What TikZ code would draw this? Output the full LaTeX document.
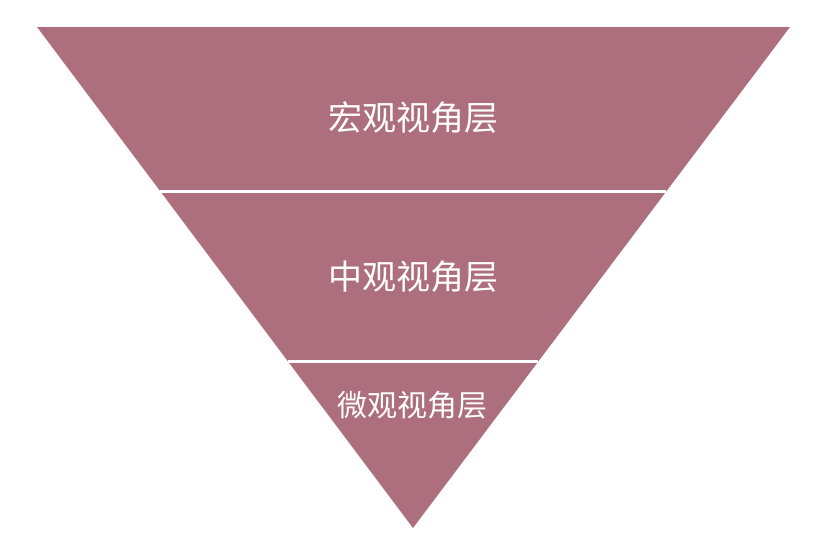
\documentclass[tikz,border=0pt]{standalone}
\usepackage{fontspec}
\newfontfamily\cjk{Noto Sans CJK SC}
\usetikzlibrary{calc}
\definecolor{layerrose}{HTML}{AD6E7D}

\begin{document}
\begin{tikzpicture}[x=1pt,y=-1pt]
\tikzset{layer/.style={fill=layerrose,draw=none},
  gapline/.style={draw=white,line width=3.5pt},
  layertext/.style={text=white,font=\cjk\fontsize{34}{34}\selectfont}}
\useasboundingbox (0,0) rectangle (823,549);

\coordinate (L) at (37,27);
\coordinate (R) at (790,27);
\coordinate (V) at (413,528);

\fill[layer] (L) -- (R) -- (V) -- cycle;

\coordinate (L1) at ($(L)!0.3283!(V)$);
\coordinate (R1) at ($(R)!0.3283!(V)$);
\coordinate (L2) at ($(L)!0.6677!(V)$);
\coordinate (R2) at ($(R)!0.6677!(V)$);

\draw[gapline] (L1) -- (R1);
\draw[gapline] (L2) -- (R2);

\node[layertext] (macro) at (413,118) {宏观视角层};
\node[layertext] (meso) at (413,277) {中观视角层};
\node[layertext,font=\cjk\fontsize{30}{30}\selectfont] (micro) at (412,405) {微观视角层};

\end{tikzpicture}
\end{document}
